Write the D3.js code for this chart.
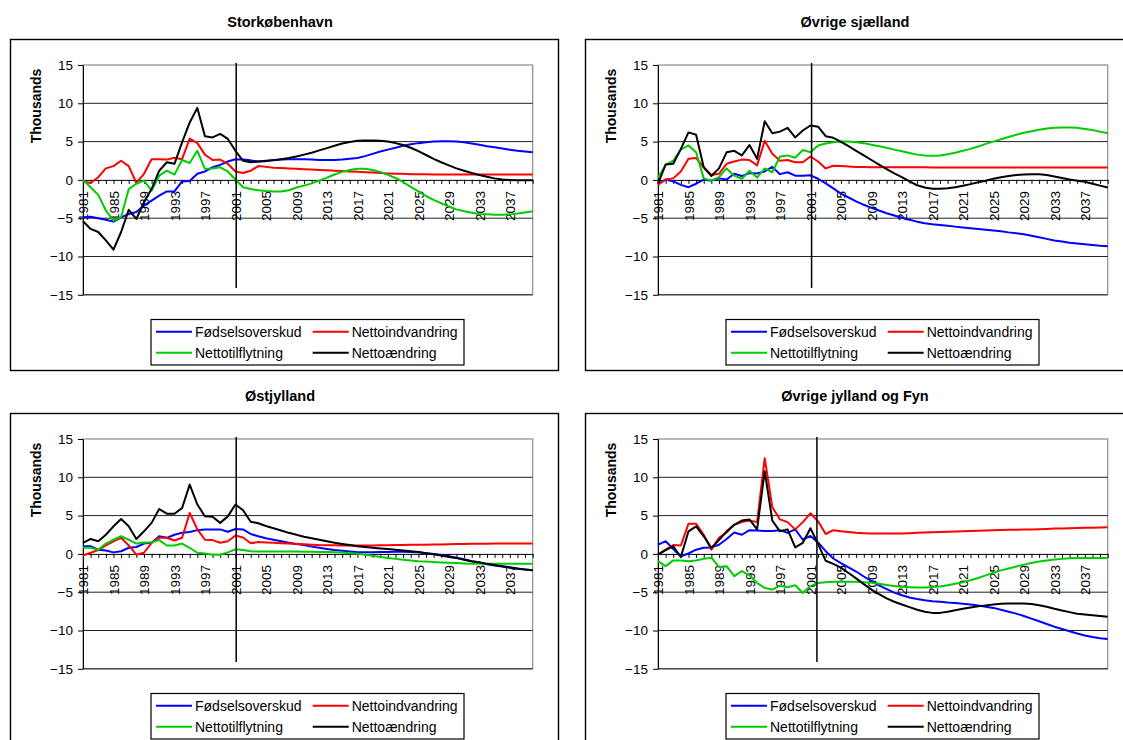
<!DOCTYPE html>
<html><head><meta charset="utf-8">
<script src="https://cdn.jsdelivr.net/npm/d3@7"></script>
<style>
body{margin:0;background:#fff}
svg text{font-family:"Liberation Sans",Arial,Helvetica,sans-serif}
</style>
</head><body>
<svg id="c" width="1123" height="740"></svg>
<script>
// ---------- categories & ticks ----------
const years = [1981,1982,1983,1984,1985,1986,1987,1988,1989,1990,
  1991,1992,1993,1994,1995,1996,1997,1998,1999,2000,
  2001,2002,2003,2004,2005,2006,2007,2008,2009,2010,
  2011,2012,2013,2014,2015,2016,2017,2018,2019,2020,
  2021,2022,2023,2024,2025,2026,2027,2028,2029,2030,
  2031,2032,2033,2034,2035,2036,2037,2038,2039,2040];
const tickLabelYears = [1981,1985,1989,1993,1997,2001,2005,2009,2013,2017,2021,2025,2029,2033,2037];
const yTicks = [-15,-10,-5,0,5,10,15];
const seriesNames = ["Fødselsoverskud","Nettoindvandring","Nettotilflytning","Nettoændring"];
const seriesColors = ["#0000ff","#ff0000","#00cc00","#000000"];
const panelTitles = ["Storkøbenhavn","Øvrige sjælland","Østjylland","Øvrige jylland og Fyn"];
const axisTitle = "Thousands";
const markerYears = [2001.1, 2001.15, 2001.1, 2001.85];

// ---------- Storkøbenhavn ----------
const kbhFods = [-4.9,-4.8,-5.0,-5.2,-5.45,-4.9,-4.45,-4.2,-3.35,-2.7,
  -2.05,-1.5,-1.5,-0.2,-0.15,0.8,1.1,1.65,1.95,2.4,
  2.7,2.65,2.55,2.4,2.45,2.6,2.65,2.7,2.7,2.7,
  2.65,2.6,2.6,2.6,2.65,2.75,2.85,3.1,3.4,3.7,
  3.95,4.2,4.45,4.65,4.8,4.9,5.0,5.05,5.05,5.0,
  4.9,4.75,4.6,4.4,4.25,4.1,3.95,3.8,3.7,3.6];
const kbhIndv = [-0.2,-0.4,0.35,1.5,1.8,2.5,1.8,-0.4,0.8,2.7,
  2.7,2.65,2.9,2.7,5.4,4.8,3.3,2.6,2.65,2.1,
  1.1,0.9,1.2,1.8,1.7,1.6,1.55,1.5,1.45,1.4,
  1.35,1.3,1.25,1.2,1.15,1.1,1.05,1.0,0.95,0.9,
  0.85,0.8,0.8,0.75,0.75,0.75,0.72,0.72,0.72,0.72,
  0.7,0.7,0.7,0.7,0.7,0.7,0.7,0.7,0.7,0.7];
const kbhTilfl = [0,-0.95,-1.95,-4.0,-5.3,-4.85,-1.2,-0.5,-0.1,-1.4,
  0.55,1.2,0.7,2.6,2.2,3.8,1.45,1.5,1.65,1.1,
  0.05,-0.95,-1.2,-1.35,-1.45,-1.5,-1.5,-1.35,-1.0,-0.75,
  -0.45,-0.1,0.3,0.7,1.05,1.3,1.45,1.45,1.3,1.05,
  0.65,0.25,-0.3,-0.9,-1.5,-2.1,-2.6,-3.05,-3.5,-3.85,
  -4.1,-4.3,-4.45,-4.5,-4.55,-4.55,-4.5,-4.4,-4.25,-4.1];
const kbhAendr = [-5.4,-6.4,-6.8,-7.9,-9.1,-6.8,-3.9,-5.1,-2.9,-1.2,
  1.2,2.3,2.1,4.9,7.5,9.4,5.7,5.55,6.0,5.35,
  3.8,2.5,2.3,2.4,2.5,2.55,2.7,2.85,3.05,3.3,
  3.55,3.85,4.15,4.45,4.75,4.95,5.1,5.15,5.15,5.1,
  5.0,4.8,4.55,4.2,3.75,3.25,2.75,2.3,1.9,1.5,
  1.2,0.9,0.65,0.4,0.2,0.05,0.0,-0.05,-0.05,-0.05];

// ---------- Øvrige sjælland ----------
const sjFods = [-0.5,0.05,-0.2,-0.65,-0.95,-0.5,0.05,-0.1,0.2,0.05,
  0.8,0.5,0.9,0.85,1.1,1.7,0.75,1.0,0.55,0.55,
  0.6,0.15,-0.45,-1.1,-1.8,-2.3,-2.8,-3.25,-3.65,-4.0,
  -4.35,-4.65,-4.95,-5.2,-5.45,-5.65,-5.8,-5.9,-6.0,-6.1,
  -6.2,-6.3,-6.4,-6.5,-6.6,-6.7,-6.85,-6.95,-7.1,-7.3,
  -7.5,-7.7,-7.9,-8.05,-8.2,-8.3,-8.4,-8.5,-8.6,-8.65];
const sjIndv = [-0.65,0.05,0.2,1.1,2.75,2.85,1.65,0.65,0.8,2.1,
  2.4,2.65,2.6,1.9,5.1,3.4,2.5,2.6,2.3,2.3,
  3.05,2.4,1.5,1.85,1.8,1.75,1.7,1.7,1.65,1.65,
  1.65,1.65,1.64,1.64,1.64,1.64,1.63,1.63,1.63,1.63,
  1.63,1.63,1.63,1.63,1.63,1.63,1.63,1.63,1.63,1.63,
  1.63,1.63,1.63,1.63,1.63,1.63,1.63,1.63,1.63,1.63];
const sjTilfl = [0.3,1.95,2.5,3.95,4.5,3.6,0.2,-0.1,0.35,1.5,
  0.55,0.15,1.2,0.3,1.5,1.0,3.05,3.2,2.9,3.9,
  3.6,4.5,4.75,4.9,5.0,5.0,4.9,4.8,4.6,4.4,
  4.2,3.95,3.75,3.5,3.3,3.2,3.15,3.2,3.35,3.55,
  3.8,4.05,4.35,4.7,5.0,5.3,5.6,5.9,6.15,6.35,
  6.55,6.7,6.8,6.85,6.85,6.8,6.65,6.5,6.3,6.1];
const sjAendr = [-0.5,2.0,2.1,4.05,6.2,5.9,1.65,0.5,1.5,3.6,
  3.8,3.2,4.55,2.75,7.65,6.1,6.3,6.8,5.55,6.45,
  7.1,6.95,5.7,5.5,4.95,4.4,3.8,3.2,2.6,2.0,
  1.4,0.85,0.35,-0.2,-0.7,-1.0,-1.15,-1.15,-1.1,-0.95,
  -0.75,-0.55,-0.3,-0.1,0.15,0.35,0.5,0.65,0.7,0.75,
  0.75,0.65,0.45,0.25,0.05,-0.1,-0.25,-0.5,-0.75,-1.0];

// ---------- Østjylland ----------
const ojFods = [1.0,1.0,0.55,0.45,0.2,0.35,0.8,0.9,1.35,1.45,
  2.3,2.1,2.5,2.75,2.85,3.1,3.2,3.2,3.2,2.9,
  3.25,3.2,2.6,2.3,2.05,1.85,1.65,1.45,1.3,1.15,
  0.95,0.8,0.65,0.5,0.4,0.3,0.22,0.2,0.22,0.25,
  0.26,0.27,0.27,0.25,0.2,0.1,0.0,-0.15,-0.3,-0.5,
  -0.7,-0.95,-1.15,-1.35,-1.5,-1.65,-1.8,-1.95,-2.05,-2.15];
const ojIndv = [-0.2,0.15,0.5,1.1,1.65,2.1,1.1,-0.1,0.15,1.45,
  2.1,2.1,1.75,2.1,5.35,3.2,1.85,1.8,1.45,1.65,
  2.4,2.15,1.4,1.55,1.5,1.45,1.4,1.35,1.3,1.25,
  1.2,1.15,1.13,1.12,1.1,1.1,1.1,1.1,1.11,1.12,
  1.13,1.15,1.16,1.18,1.2,1.21,1.23,1.24,1.26,1.28,
  1.3,1.32,1.33,1.34,1.35,1.35,1.35,1.35,1.35,1.35];
const ojTilfl = [0.8,0.8,0.55,1.35,1.85,2.3,1.85,1.35,1.5,1.5,
  1.8,1.1,1.1,1.35,0.8,0.15,0.05,-0.1,-0.1,0.2,
  0.6,0.5,0.35,0.3,0.3,0.3,0.3,0.3,0.3,0.28,
  0.27,0.26,0.26,0.22,0.18,0.1,0.02,-0.1,-0.25,-0.4,
  -0.55,-0.65,-0.75,-0.85,-0.95,-1.0,-1.05,-1.12,-1.17,-1.2,
  -1.25,-1.28,-1.3,-1.3,-1.3,-1.3,-1.3,-1.3,-1.3,-1.3];
const ojAendr = [1.45,1.95,1.65,2.5,3.6,4.55,3.6,1.95,2.95,4.05,
  5.85,5.25,5.25,6.0,9.05,6.45,4.9,4.85,4.05,4.9,
  6.45,5.7,4.2,4.0,3.65,3.35,3.05,2.75,2.5,2.25,
  2.05,1.85,1.65,1.45,1.3,1.15,1.0,0.9,0.8,0.72,
  0.65,0.55,0.45,0.35,0.25,0.1,-0.05,-0.2,-0.4,-0.55,
  -0.75,-0.95,-1.1,-1.3,-1.45,-1.6,-1.75,-1.9,-2.05,-2.15];

// ---------- Øvrige jylland og Fyn ----------
const jfFods = [1.2,1.65,0.65,-0.3,0.05,0.55,0.8,0.85,1.2,1.95,
  2.8,2.5,3.1,3.05,3.0,3.0,3.1,2.75,3.2,1.85,
  2.35,1.5,0.35,-0.6,-1.2,-1.75,-2.3,-2.95,-3.55,-4.1,
  -4.6,-5.05,-5.4,-5.7,-5.9,-6.05,-6.17,-6.25,-6.35,-6.42,
  -6.5,-6.6,-6.75,-6.9,-7.05,-7.3,-7.55,-7.8,-8.1,-8.45,
  -8.8,-9.15,-9.5,-9.8,-10.1,-10.4,-10.65,-10.85,-11.0,-11.1];
const jfIndv = [-0.1,0.55,1.15,1.1,3.95,3.95,2.5,0.55,2.1,2.8,
  3.8,4.15,4.35,4.15,12.5,6.1,4.5,4.15,3.2,4.15,
  5.3,4.25,2.6,3.1,2.95,2.85,2.75,2.7,2.65,2.65,
  2.65,2.65,2.65,2.7,2.75,2.8,2.83,2.86,2.9,2.93,
  2.96,3.0,3.03,3.07,3.1,3.12,3.14,3.16,3.18,3.2,
  3.23,3.26,3.3,3.32,3.35,3.38,3.4,3.43,3.46,3.48];
const jfTilfl = [-0.95,-1.6,-0.85,-0.85,-0.95,-0.85,-0.65,-0.5,-1.7,-1.6,
  -2.9,-2.25,-2.8,-3.8,-4.45,-4.65,-4.15,-4.35,-4.1,-5.1,
  -4.2,-3.8,-3.7,-3.65,-3.65,-3.62,-3.65,-3.7,-3.78,-3.9,
  -4.05,-4.2,-4.3,-4.35,-4.38,-4.38,-4.33,-4.25,-4.1,-3.9,
  -3.7,-3.45,-3.15,-2.8,-2.45,-2.15,-1.9,-1.65,-1.4,-1.2,
  -1.0,-0.85,-0.74,-0.65,-0.58,-0.54,-0.52,-0.52,-0.52,-0.52];
const jfAendr = [-0.1,0.5,1.0,-0.4,2.95,3.6,2.3,0.8,1.8,2.95,
  3.8,4.35,4.5,3.2,10.8,4.35,2.95,3.2,0.85,1.45,
  3.35,1.3,-0.9,-1.3,-1.8,-2.5,-3.2,-3.95,-4.65,-5.25,
  -5.8,-6.25,-6.6,-6.95,-7.3,-7.55,-7.7,-7.7,-7.55,-7.35,
  -7.17,-7.0,-6.85,-6.72,-6.6,-6.52,-6.48,-6.46,-6.48,-6.55,
  -6.7,-6.9,-7.15,-7.4,-7.6,-7.8,-7.9,-8.0,-8.1,-8.2];

// ---------- layout ----------
const panelSeries = [
  [kbhFods,kbhIndv,kbhTilfl,kbhAendr],
  [sjFods,sjIndv,sjTilfl,sjAendr],
  [ojFods,ojIndv,ojTilfl,ojAendr],
  [jfFods,jfIndv,jfTilfl,jfAendr]
];
const boxPos = [[10,39],[585,39],[10,413],[585,413]];
const boxW = 548, boxH = 331;
const FONT = '"Liberation Sans",Arial,Helvetica,sans-serif';

const svg = d3.select("#c");
svg.append("rect").attr("width",1123).attr("height",740).attr("fill","#fff");

panelSeries.forEach((series, pi) => {
  const [bx, by] = boxPos[pi];
  const g = svg.append("g").attr("transform", `translate(${bx},${by})`);

  g.append("rect").attr("x",0.5).attr("y",0.5).attr("width",boxW).attr("height",boxH)
    .attr("fill","#fff").attr("stroke","#000").attr("stroke-width",1.4);

  g.append("text").attr("x", boxW/2 - 4).attr("y", -12)
    .attr("text-anchor","middle").attr("font-weight","bold").attr("font-size",14.5)
    .attr("fill","#000").text(panelTitles[pi]);

  const L = 73, R = 522.7, T = 26, B = 255.8;
  const x = d3.scaleLinear().domain([years[0], years[years.length-1]]).range([L, R]);
  const y = d3.scaleLinear().domain([-15, 15]).range([B, T]);

  // plot area border
  g.append("rect").attr("x",L).attr("y",T).attr("width",R-L).attr("height",B-T)
    .attr("fill","none").attr("stroke","#8c8c8c").attr("stroke-width",1.2);

  // gridlines
  g.append("g").selectAll("line")
    .data(yTicks.filter(v => v !== 0 && v !== 15))
    .join("line")
    .attr("x1",L).attr("x2",R).attr("y1",d=>y(d)).attr("y2",d=>y(d))
    .attr("stroke","#222").attr("stroke-width",1);

  // y axis
  const ya = g.append("g").attr("transform",`translate(${L},0)`)
    .call(d3.axisLeft(y).tickValues(yTicks).tickSize(5).tickPadding(5).tickSizeOuter(0));
  ya.attr("font-family",FONT).attr("font-size",13.5);
  ya.selectAll("text").attr("fill","#000");

  // x axis at zero
  const xa = g.append("g").attr("transform",`translate(0,${y(0)})`)
    .call(d3.axisBottom(x).tickValues(years).tickSize(4).tickSizeOuter(0)
      .tickFormat(d => tickLabelYears.includes(d) ? String(d) : ""));
  xa.attr("font-family",FONT).attr("font-size",13.5);
  xa.selectAll("text")
    .attr("transform","rotate(-90)")
    .attr("x",-11).attr("y",0).attr("dy","0.36em")
    .attr("text-anchor","end").attr("fill","#000");

  // axis title
  g.append("text").attr("transform",`translate(26,67) rotate(-90)`)
    .attr("text-anchor","middle").attr("dy","0.36em")
    .attr("font-weight","bold").attr("font-size",14).attr("fill","#000").text(axisTitle);

  // series
  const line = d3.line().x((d,i) => x(years[i])).y(d => y(d));
  series.forEach((s, si) => {
    g.append("path").datum(s).attr("d", line)
      .attr("fill","none").attr("stroke",seriesColors[si])
      .attr("stroke-width",2).attr("stroke-linejoin","round");
  });

  // projection marker
  g.append("line")
    .attr("x1",x(markerYears[pi])).attr("x2",x(markerYears[pi]))
    .attr("y1",y(15)-2).attr("y2",y(-14.1))
    .attr("stroke","#000").attr("stroke-width",1.5);

  // legend
  const lg = g.append("g").attr("transform","translate(141,280.5)");
  lg.append("rect").attr("x",0).attr("y",0).attr("width",313).attr("height",45.5)
    .attr("fill","#fff").attr("stroke","#000").attr("stroke-width",1.2);
  const colX = [5, 161.7], rowY = [12.2, 33.2];
  seriesNames.forEach((nm, si) => {
    const cx = colX[si % 2], cy = rowY[Math.floor(si / 2)];
    lg.append("line").attr("x1",cx).attr("x2",cx+36).attr("y1",cy).attr("y2",cy)
      .attr("stroke",seriesColors[si]).attr("stroke-width",2);
    lg.append("text").attr("x",cx+39).attr("y",cy).attr("dy","0.36em")
      .attr("font-size",14).attr("fill","#000").text(nm);
  });
});
</script>
</body></html>
